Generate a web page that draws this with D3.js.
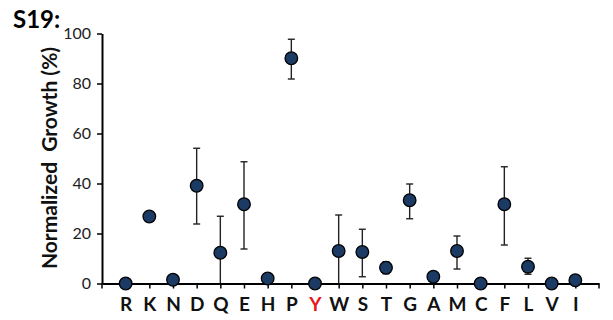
<!DOCTYPE html>
<html>
<head>
<meta charset="utf-8">
<script src="https://cdn.jsdelivr.net/npm/d3@7"></script>
<style>
  html, body { margin: 0; padding: 0; background: #fff; }
  svg { display: block; }
</style>
</head>
<body>
<svg id="chart" width="613" height="320"></svg>
<script>
// Amino acid substitutions at position S19 and their normalized growth
const residues = ["R","K","N","D","Q","E","H","P","Y","W","S","T","G","A","M","C","F","L","V","I"];
const growth   = [0, 26.8, 1.5, 39.1, 12.3, 31.7, 2.0, 90.1, 0, 13.0, 12.6, 6.3, 33.3, 2.7, 13.0, 0, 31.7, 6.7, 0, 1.3];
const errHigh  = [0, 0, 0, 54.1, 26.9, 48.7, 0, 97.7, 0, 27.4, 21.7, 8.7, 39.8, 0, 19.0, 0, 46.7, 10.1, 0, 0];
const errLow   = [0, 0, 0, 23.8, 0, 13.8, 0, 81.8, 0, 0, 2.7, 3.9, 25.9, 0, 5.8, 0, 15.4, 3.7, 0, 0];
const yTicks   = [0, 20, 40, 60, 80, 100];
const wildType = "Y";

(function () {
const svg = d3.select("#chart");
const plotLeft = 102, plotRight = 599, plotTop = 33.5, plotBottom = 283.5;
const font = "Lato, 'Open Sans', sans-serif";

const x = d3.scalePoint().domain(residues).range([plotLeft, plotRight]).padding(1);
const y = d3.scaleLinear().domain([0, 100]).range([plotBottom, plotTop]);

const rows = residues.map((r, i) => ({ r, v: growth[i], hi: errHigh[i], lo: errLow[i] }));

// y axis
const yAxis = svg.append("g")
  .attr("transform", `translate(${plotLeft},0)`)
  .call(d3.axisLeft(y).tickValues(yTicks).tickSize(5).tickSizeOuter(0).tickPadding(6));
yAxis.select(".domain").attr("stroke", "#000").attr("stroke-width", 2);
yAxis.selectAll(".tick line").attr("stroke", "#000").attr("stroke-width", 1.5);
yAxis.selectAll(".tick text")
  .attr("font-family", font).attr("font-size", 16).attr("fill", "#222");

// x axis with ticks on categories and both ends
const xAxis = svg.append("g")
  .attr("transform", `translate(0,${plotBottom})`)
  .call(d3.axisBottom(x).tickSize(5).tickSizeOuter(0).tickPadding(9));
xAxis.select(".domain").attr("stroke", "#000").attr("stroke-width", 2);
xAxis.selectAll(".tick line").attr("stroke", "#000").attr("stroke-width", 1.5);
xAxis.selectAll(".tick text")
  .attr("font-family", font).attr("font-size", 19).attr("font-weight", "bold")
  .attr("fill", d => d === wildType ? "#e8141b" : "#111");
xAxis.selectAll(".end-tick").data(x.range()).enter().append("line")
  .attr("class", "end-tick")
  .attr("x1", d => d).attr("x2", d => d).attr("y1", 0).attr("y2", 5)
  .attr("stroke", "#000").attr("stroke-width", 1.5);

// error bars
const withErr = rows.filter(d => d.hi > 0);
const eb = svg.append("g").attr("stroke", "#222").attr("stroke-width", 1.4);
eb.selectAll("line.stem").data(withErr).enter().append("line")
  .attr("class", "stem")
  .attr("x1", d => x(d.r)).attr("x2", d => x(d.r))
  .attr("y1", d => y(d.hi)).attr("y2", d => y(d.lo));
eb.selectAll("line.cap-hi").data(withErr).enter().append("line")
  .attr("class", "cap-hi")
  .attr("x1", d => x(d.r) - 3.5).attr("x2", d => x(d.r) + 3.5)
  .attr("y1", d => y(d.hi)).attr("y2", d => y(d.hi));
eb.selectAll("line.cap-lo").data(withErr.filter(d => d.lo > 0)).enter().append("line")
  .attr("class", "cap-lo")
  .attr("x1", d => x(d.r) - 3.5).attr("x2", d => x(d.r) + 3.5)
  .attr("y1", d => y(d.lo)).attr("y2", d => y(d.lo));

// markers
svg.append("g").selectAll("circle").data(rows).enter().append("circle")
  .attr("cx", d => x(d.r)).attr("cy", d => y(d.v)).attr("r", 6.3)
  .attr("fill", "#1b3a64").attr("stroke", "#000").attr("stroke-width", 1.3);

// axis title
svg.append("text")
  .attr("transform", `translate(57,158) rotate(-90)`)
  .attr("text-anchor", "middle")
  .attr("font-family", font).attr("font-size", 21).attr("font-weight", "bold")
  .attr("fill", "#111")
  .style("white-space", "pre")
  .text("Normalized  Growth (%)");

// panel label
svg.append("text")
  .attr("x", 13).attr("y", 28)
  .attr("font-family", font).attr("font-size", 24).attr("font-weight", "bold")
  .attr("fill", "#000")
  .text("S19:");
})();
</script>
</body>
</html>
